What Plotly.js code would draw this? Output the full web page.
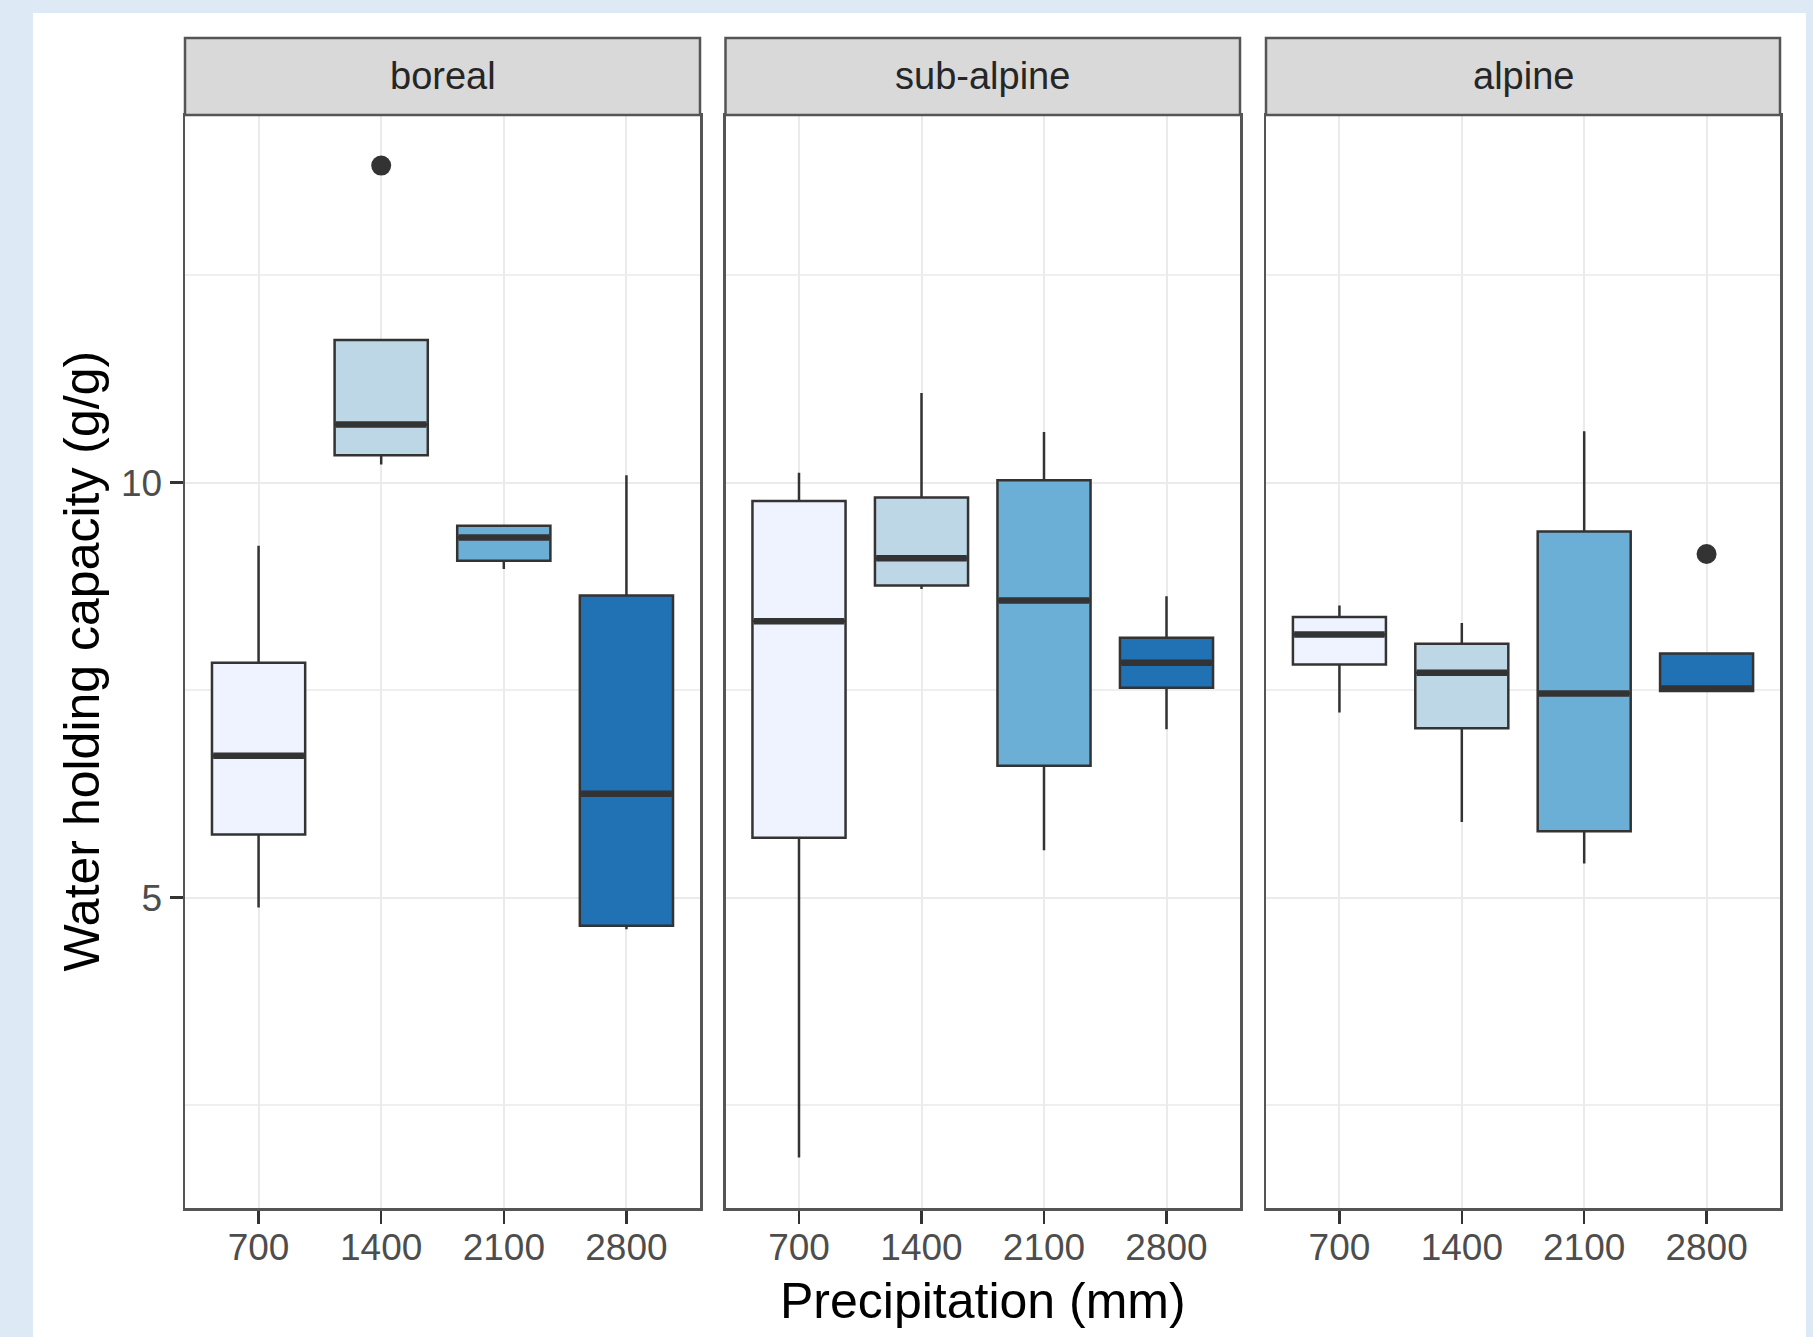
<!DOCTYPE html>
<html><head><meta charset="utf-8">
<script src="https://cdn.plot.ly/plotly-3.0.1.min.js"></script>
<style>html,body{margin:0;padding:0;background:#DDE9F5;} #chart{width:1813px;height:1337px;}</style>
</head><body><div id="chart"></div>
<script>
// ---- data ----
const precipitation = ['700', '1400', '2100', '2800'];
const zones = ['boreal', 'sub-alpine', 'alpine'];
const fillColors = ['#EFF3FF', '#BDD7E7', '#6BAED6', '#2171B5'];

const borealLower  = [4.88, 10.22, 8.96, 4.62];
const borealQ1     = [5.76, 10.33, 9.06, 4.66];
const borealMedian = [6.71, 10.70, 9.34, 6.25];
const borealQ3     = [7.83, 11.72, 9.48, 8.64];
const borealUpper  = [9.24, 11.72, 9.48, 10.09];

const subalpineLower  = [1.87, 8.72, 5.57, 7.03];
const subalpineQ1     = [5.72, 8.76, 6.59, 7.53];
const subalpineMedian = [8.33, 9.09, 8.58, 7.83];
const subalpineQ3     = [9.78, 9.82, 10.03, 8.13];
const subalpineUpper  = [10.12, 11.08, 10.61, 8.63];

const alpineLower  = [7.23, 5.91, 5.41, 7.49];
const alpineQ1     = [7.81, 7.04, 5.80, 7.49];
const alpineMedian = [8.17, 7.71, 7.46, 7.52];
const alpineQ3     = [8.38, 8.06, 9.41, 7.94];
const alpineUpper  = [8.52, 8.31, 10.62, 7.94];

const outlierZone   = ['boreal', 'alpine'];
const outlierPrecip = ['1400', '2800'];
const outlierValue  = [13.82, 9.14];

const yTickVals = [5, 10];
const yMinorVals = [2.5, 7.5, 12.5];

// ---- build ----
const stats = [
  [borealLower, borealQ1, borealMedian, borealQ3, borealUpper],
  [subalpineLower, subalpineQ1, subalpineMedian, subalpineQ3, subalpineUpper],
  [alpineLower, alpineQ1, alpineMedian, alpineQ3, alpineUpper]
];

const W = 1813, H = 1337;
const panelsPx = [[185, 700], [725.5, 1240], [1266, 1780]];
const plotTop = 115, plotBottom = 1208, stripTop = 38;
const boxW = 0.76;
const edge = '#333333';
const FONT = 'Liberation Sans, Arial, sans-serif';

const traces = [];
zones.forEach((z, zi) => {
  const sfx = zi === 0 ? '' : String(zi + 1);
  const [lo, q1, med, q3, up] = stats[zi];
  precipitation.forEach((p, pi) => {
    traces.push({
      type: 'box', xaxis: 'x' + sfx, yaxis: 'y' + sfx,
      x: [pi], q1: [q1[pi]], median: [med[pi]], q3: [q3[pi]],
      lowerfence: [lo[pi]], upperfence: [up[pi]],
      width: boxW, whiskerwidth: 0, boxpoints: false,
      fillcolor: fillColors[pi], line: {color: edge, width: 2.5},
      showlegend: false, hoverinfo: 'skip'
    });
  });
  // thicker median lines
  const mx = [], my = [];
  precipitation.forEach((p, pi) => {
    mx.push(pi - boxW / 2 + 0.01, pi + boxW / 2 - 0.01, null);
    my.push(med[pi], med[pi], null);
  });
  traces.push({
    type: 'scatter', mode: 'lines', xaxis: 'x' + sfx, yaxis: 'y' + sfx,
    x: mx, y: my, line: {color: edge, width: 6.5}, showlegend: false, hoverinfo: 'skip'
  });
  // outliers
  const ox = [], oy = [];
  outlierZone.forEach((oz, k) => {
    if (oz === z) { ox.push(precipitation.indexOf(outlierPrecip[k])); oy.push(outlierValue[k]); }
  });
  if (ox.length) {
    traces.push({
      type: 'scatter', mode: 'markers', xaxis: 'x' + sfx, yaxis: 'y' + sfx,
      x: ox, y: oy, marker: {color: edge, size: 20}, showlegend: false, hoverinfo: 'skip'
    });
  }
});

const tickFont = {family: FONT, size: 37, color: '#4D4D4D'};
const layout = {
  width: W, height: H,
  margin: {l: 0, r: 0, t: 0, b: 0},
  paper_bgcolor: '#DDE9F5', plot_bgcolor: '#FFFFFF',
  font: {family: FONT},
  showlegend: false,
  shapes: [{
    type: 'rect', xref: 'paper', yref: 'paper', layer: 'below',
    x0: 33 / W, x1: 1806 / W, y0: -0.01, y1: 1 - 13 / H,
    fillcolor: '#FFFFFF', line: {width: 0}
  }],
  annotations: []
};

const yDomain = [1 - plotBottom / H, 1 - plotTop / H];
zones.forEach((z, zi) => {
  const sfx = zi === 0 ? '' : String(zi + 1);
  const [a, b] = panelsPx[zi];
  layout['xaxis' + sfx] = {
    domain: [a / W, b / W], anchor: 'y' + sfx,
    range: [-0.6, 3.6], tickvals: [0, 1, 2, 3], ticktext: precipitation,
    showgrid: true, gridcolor: '#EBEBEB', gridwidth: 2,
    zeroline: false, showline: true, mirror: true, linecolor: '#555555', linewidth: 2.5,
    ticks: 'outside', ticklen: 13, tickwidth: 2.5, tickcolor: '#333333',
    ticklabelstandoff: -8,
    tickfont: tickFont, fixedrange: true
  };
  const ya = {
    domain: yDomain, anchor: 'x' + sfx,
    range: [1.26, 14.43], tickvals: yTickVals,
    showgrid: true, gridcolor: '#EBEBEB', gridwidth: 2,
    minor: {tickvals: yMinorVals, showgrid: true, gridcolor: '#EFEFEF', gridwidth: 1.5, ticks: ''},
    zeroline: false, showline: true, mirror: true, linecolor: '#555555', linewidth: 2.5,
    fixedrange: true
  };
  if (zi === 0) {
    Object.assign(ya, {ticks: 'outside', ticklen: 13, tickwidth: 2.5, tickcolor: '#333333', tickfont: tickFont, showticklabels: true});
  } else {
    Object.assign(ya, {matches: 'y', ticks: '', showticklabels: false});
  }
  layout['yaxis' + sfx] = ya;

  // strip
  layout.shapes.push({
    type: 'rect', xref: 'paper', yref: 'paper', layer: 'above',
    x0: a / W, x1: b / W, y0: 1 - plotTop / H, y1: 1 - stripTop / H,
    fillcolor: '#D9D9D9', line: {color: '#555555', width: 2.5}
  });
  layout.annotations.push({
    xref: 'paper', yref: 'paper', x: (a + b) / 2 / W, y: 1 - (plotTop + stripTop) / 2 / H,
    text: z, showarrow: false, xanchor: 'center', yanchor: 'middle',
    font: {family: FONT, size: 38, color: '#262626'}
  });
});

layout.annotations.push({
  xref: 'paper', yref: 'paper', x: (panelsPx[0][0] + panelsPx[2][1]) / 2 / W, y: 1 - 1301 / H,
  text: 'Precipitation (mm)', showarrow: false, xanchor: 'center', yanchor: 'middle',
  font: {family: FONT, size: 50, color: '#000000'}
});
layout.annotations.push({
  xref: 'paper', yref: 'paper', x: 81 / W, y: 1 - (plotTop + plotBottom) / 2 / H,
  text: 'Water holding capacity (g/g)', showarrow: false, textangle: -90,
  xanchor: 'center', yanchor: 'middle',
  font: {family: FONT, size: 50, color: '#000000'}
});

Plotly.newPlot('chart', traces, layout, {displayModeBar: false, staticPlot: true});
</script>
</body></html>
